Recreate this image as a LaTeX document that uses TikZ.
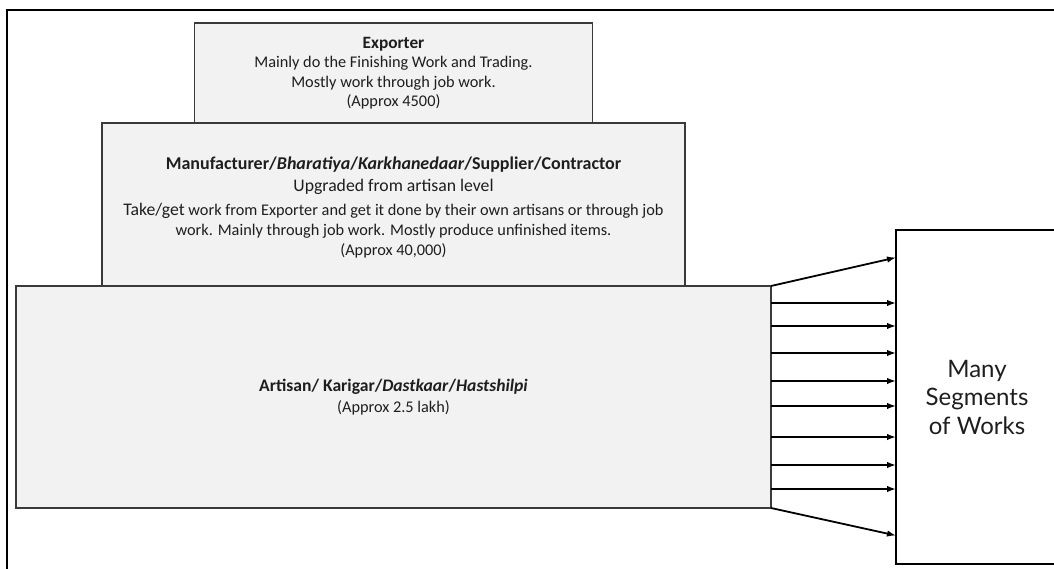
\documentclass[tikz,border=0pt]{standalone}
\usepackage{fontspec}
\setmainfont{Carlito}
\newfontfamily\segfont{Lato}
\usetikzlibrary{positioning,arrows.meta}
\definecolor{boxgray}{HTML}{F2F2F2}
\definecolor{edgegray}{HTML}{3A3A3A}
\definecolor{inkblack}{HTML}{1E1E1E}

\tikzset{
  tierbox/.style={draw=edgegray, line width=1.2pt, fill=boxgray, text=inkblack,
    align=center, inner sep=0pt, outer sep=0pt,
    font=\fontsize{16.3}{19.5}\selectfont},
  flow/.style={-{Latex[length=9pt,width=6.5pt]}, line width=1.8pt},
}

\begin{document}
\begin{tikzpicture}[x=1pt, y=-1pt]
    \clip (0,0) rectangle (1054,569);
    % Outer frame
    \draw[line width=1.5pt] (7,590) |- (1080,10);

    % Tiers of the pyramid
    \node (artisan) [tierbox, minimum width=755pt, minimum height=222pt] at (393.5,397)
      {{\bfseries\fontsize{17.6}{21}\selectfont Artisan/ Karigar/\textit{Dastkaar}/\textit{Hastshilpi}}\\[1.5pt]
       (Approx 2.5 lakh)};
    \node (manuf) [tierbox, minimum width=583pt, minimum height=163pt, above=0pt of artisan]
      {{}\\[-0.5pt]
       {\bfseries\fontsize{18}{21}\selectfont Manufacturer/\textit{Bharatiya}/\textit{Karkhanedaar}/Supplier/Contractor}\\[2.5pt]
       {\fontsize{17.7}{21}\selectfont Upgraded from artisan level}\\[4pt]
       {\fontsize{17.7}{21}\selectfont Take/get} work from Exporter and get it done by their own artisans or through job\\[0.5pt]
       work. Mainly through job work. Mostly produce unfinished items.\\[1pt]
       (Approx 40,000)};
    \node (exporter) [tierbox, minimum width=398pt, minimum height=100pt, above=0pt of manuf]
      {{\bfseries\fontsize{17.3}{21}\selectfont Exporter}\\
       Mainly do the Finishing Work and Trading.\\
       Mostly work through job work.\\
       (Approx 4500)};

    % Target box
    \node (segments) [draw, line width=2pt, outer sep=0pt, minimum width=162pt, minimum height=333pt,
      right=125pt of artisan, align=center, text=inkblack,
      font=\segfont\fontsize{24}{28.5}\selectfont] {Many\\Segments\\of Works};

    % Arrows
    \draw[flow] (artisan.north east) -- ([yshift=-27pt]segments.north west);
    \foreach \off in {17,40,67,95,120,151,179,203}
      \draw[flow] ([yshift=-\off pt]artisan.north east) -- ([yshift=-\off pt]artisan.north east -| segments.west);
    \draw[flow] (artisan.south east) -- ([yshift=28pt]segments.south west);
\end{tikzpicture}
\end{document}
